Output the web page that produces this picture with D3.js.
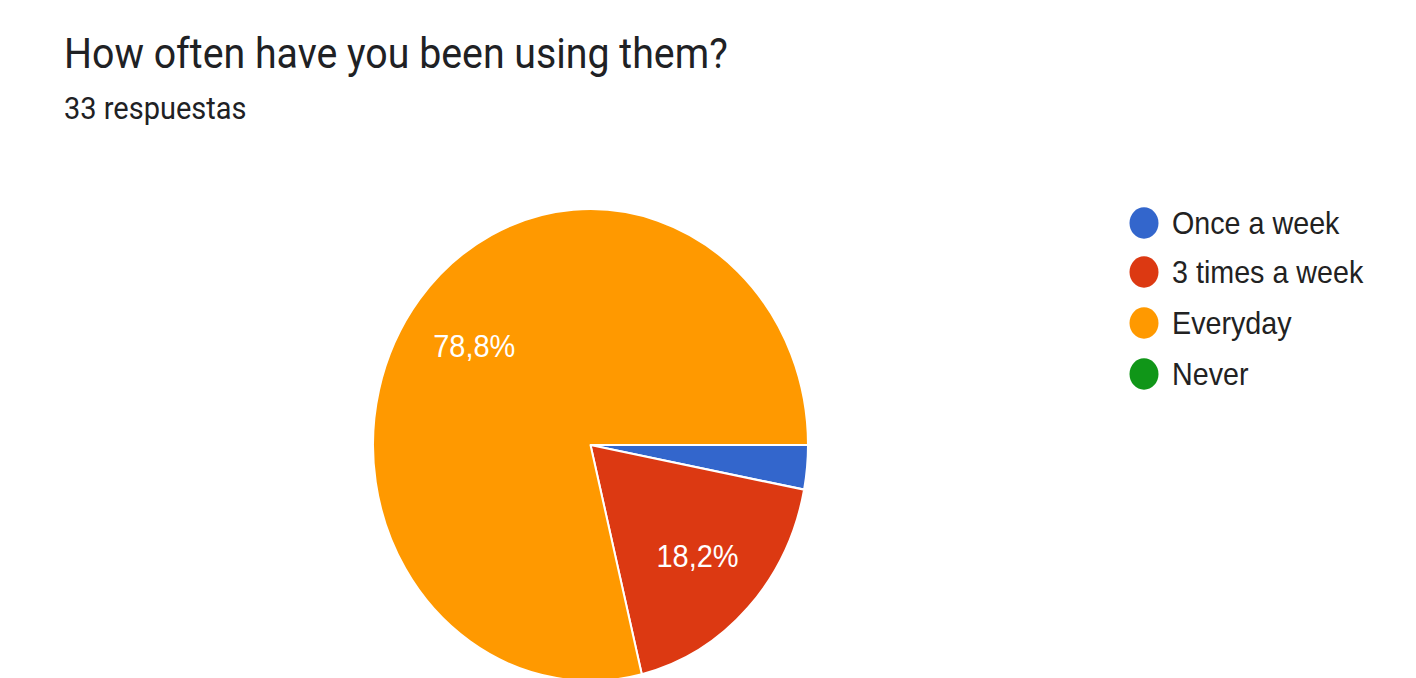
<!DOCTYPE html>
<html><head><meta charset="utf-8">
<script src="https://cdn.jsdelivr.net/npm/d3@7"></script>
<style>html,body{margin:0;padding:0;background:#fff;overflow:hidden}</style>
</head><body>
<svg id="c" width="1416" height="678"></svg>
<script>
const categories = ["Once a week", "3 times a week", "Everyday", "Never"];
const counts = [1, 6, 26, 0];
const colors = ["#3366cc", "#dc3912", "#ff9900", "#109618"];
const title = "How often have you been using them?";
const subtitle = "33 respuestas";

const SY = 1.085;
const svg = d3.select("#c");
const g = svg.append("g").attr("transform", `scale(1,${SY})`);
const font = "Roboto, Arial, sans-serif";
const afont = "'Liberation Sans', Arial, sans-serif";

g.append("text").attr("x", 64).attr("y", 68 / SY).attr("font-family", font)
  .attr("font-size", 39.3).attr("fill", "#202124").text(title);
g.append("text").attr("x", 64).attr("y", 119 / SY).attr("font-family", font)
  .attr("font-size", 29).attr("fill", "#202124").text(subtitle);

const cx = 590.5, cy = 445 / SY, r = 217.5;
const total = d3.sum(counts);
const pie = d3.pie().sort(null).startAngle(Math.PI / 2).endAngle(Math.PI / 2 + 2 * Math.PI);
const arcs = pie(counts);
const arc = d3.arc().innerRadius(0).outerRadius(r);
const labelArc = d3.arc().innerRadius(r * 0.68).outerRadius(r * 0.68);
const pg = g.append("g").attr("transform", `translate(${cx},${cy})`);
pg.selectAll("path").data(arcs.filter(d => d.value > 0)).join("path")
  .attr("d", arc).attr("fill", d => colors[d.index])
  .attr("stroke", "#fff").attr("stroke-width", 2).attr("stroke-linejoin", "round");
const fmt = v => (v / total * 100).toFixed(1).replace(".", ",") + "%";
pg.selectAll("text").data(arcs.filter(d => d.value / total > 0.05)).join("text")
  .attr("transform", d => `translate(${labelArc.centroid(d)})`)
  .attr("text-anchor", "middle").attr("dy", "0.36em")
  .attr("font-family", afont).attr("font-size", 29).attr("fill", "#fff")
  .text(d => fmt(d.value));

const lg = g.append("g");
const ly = [223, 272, 323, 374];
categories.forEach((c, i) => {
  lg.append("circle").attr("cx", 1144).attr("cy", ly[i] / SY).attr("r", 14.5).attr("fill", colors[i]);
  lg.append("text").attr("x", 1172).attr("y", ly[i] / SY).attr("dy", "0.36em")
    .attr("font-family", afont).attr("font-size", 28.7).attr("fill", "#222").text(c);
});
</script>
</body></html>
